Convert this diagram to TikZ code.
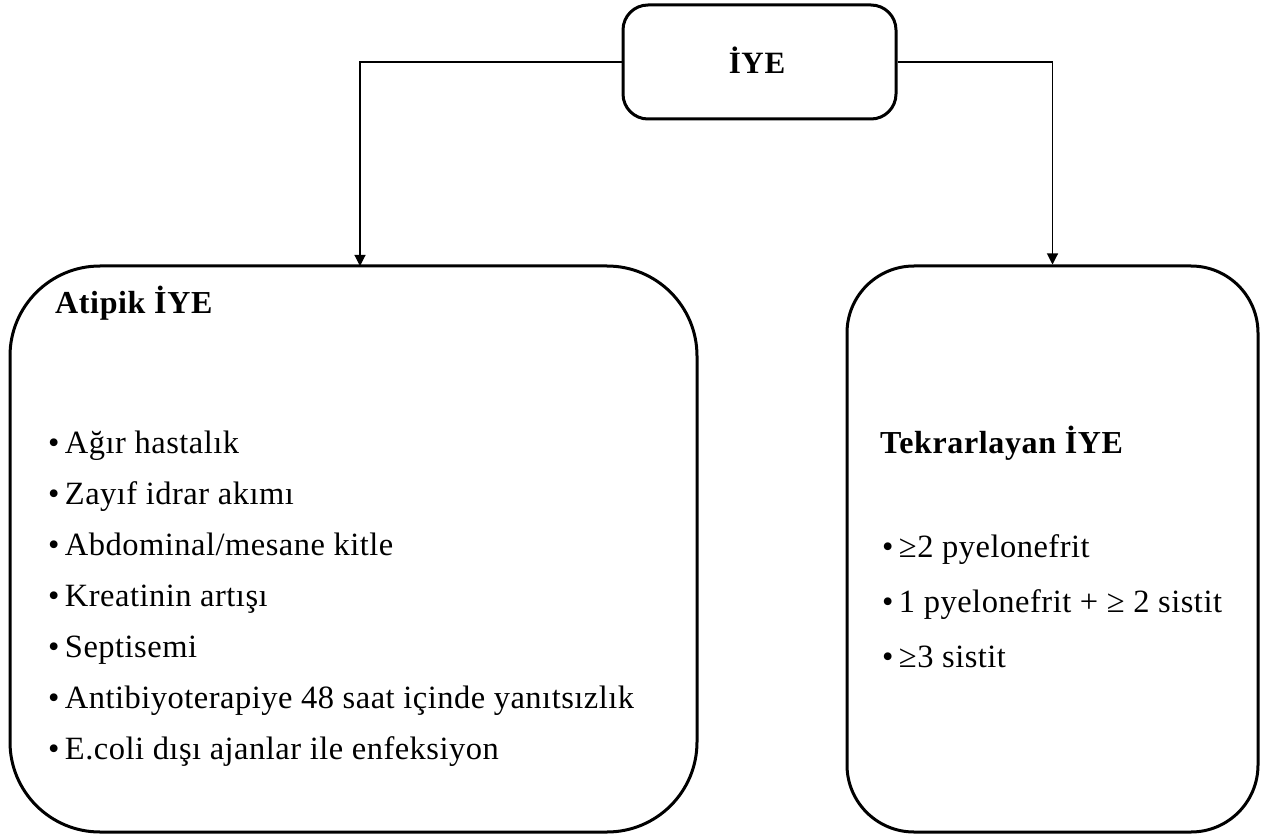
\documentclass[tikz,border=0pt]{standalone}
\usepackage{fontspec}
\setmainfont{Liberation Serif}
\newfontfamily\bodyfont[LetterSpace=1.5]{Liberation Serif}
\newfontfamily\headfont[LetterSpace=2]{Liberation Serif}
\usetikzlibrary{arrows.meta}
\begin{document}
\begin{tikzpicture}[x=1pt,y=-1pt,
  box/.style={draw=black,line width=3pt,fill=white,inner sep=0pt},
  conn/.style={draw=black,line width=1.1pt,-{Triangle[width=11pt,length=11pt]}},
  body/.style={anchor=base west,inner sep=0pt,font=\bodyfont\fontsize{32.5}{38}\selectfont},
  head/.style={anchor=base west,inner sep=0pt,font=\headfont\fontsize{32}{38}\selectfont\bfseries}]
\fill[white] (0,0) rectangle (1264,837);
\useasboundingbox (0,0) rectangle (1264,837);
% boxes
\node[box,rounded corners=25pt,minimum width=273pt,minimum height=114pt] (top) at (759.5,62) {};
\node[box,rounded corners=90pt,minimum width=687pt,minimum height=566pt] (left) at (353.5,549) {};
\node[box,rounded corners=67pt,minimum width=411pt,minimum height=566pt] (right) at (1052.5,549) {};
\coordinate (la) at (360,266);
% connectors
\draw[conn] (top.west) -| (la);
\draw[conn] (top.east) -| (right.north);
% texts
\node[anchor=base,inner sep=0pt,font=\headfont\fontsize{31}{36}\selectfont\bfseries] (t0) at (757,74) {İYE};
\node[head] (h1) at (55,313) {Atipik İYE};
\node[body] (a1) at (48,453) {•\,Ağır hastalık};
\node[body] (a2) at (48,504) {•\,Zayıf idrar akımı};
\node[body] (a3) at (48,555) {•\,Abdominal/mesane kitle};
\node[body] (a4) at (48,606) {•\,Kreatinin artışı};
\node[body] (a5) at (48,657) {•\,Septisemi};
\node[body] (a6) at (48,708) {•\,Antibiyoterapiye 48 saat içinde yanıtsızlık};
\node[body] (a7) at (48,759) {•\,E.coli dışı ajanlar ile enfeksiyon};
\node[head] (h2) at (880,453) {Tekrarlayan İYE};
\node[body] (b1) at (882,557) {•\,≥2 pyelonefrit};
\node[body] (b2) at (882,612) {•\,1 pyelonefrit + ≥ 2 sistit};
\node[body] (b3) at (882,667) {•\,≥3 sistit};
\end{tikzpicture}
\end{document}
